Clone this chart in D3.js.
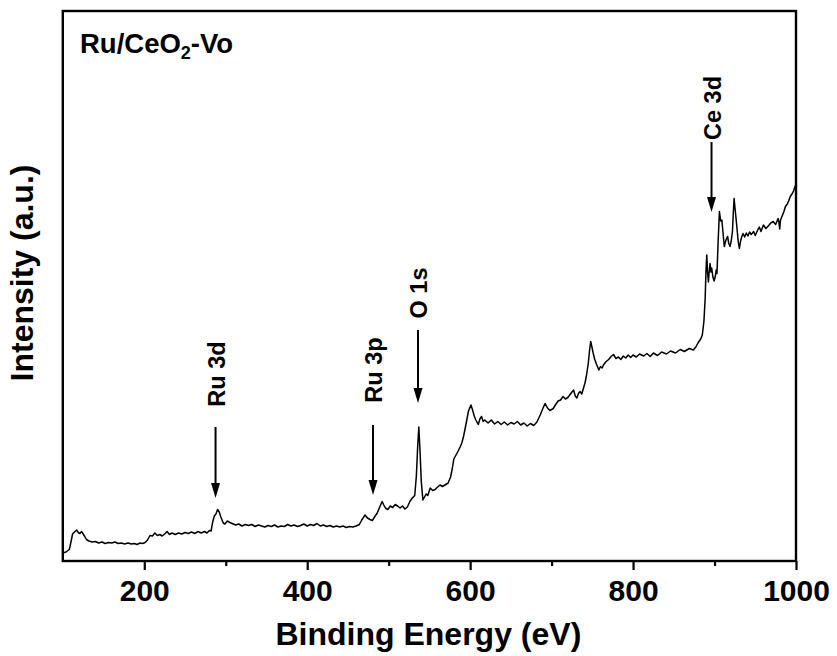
<!DOCTYPE html>
<html>
<head>
<meta charset="utf-8">
<script src="https://cdn.jsdelivr.net/npm/d3@7/dist/d3.min.js"></script>
<style>
  html, body { margin: 0; padding: 0; background: #fff; }
  svg { display: block; }
  text { font-family: "Liberation Sans", Arial, sans-serif; font-weight: bold; fill: #000; }
</style>
</head>
<body>
<svg id="chart" width="837" height="656"></svg>
<script>
// XPS survey spectrum of Ru/CeO2-Vo
const energy = [
  100,104,108,110,112,115,117,119,121,123,125,127,129,132,136,140,144,148,152,156,
  160,164,168,172,176,180,184,188,191,195,198,201,204,207,210,213,216,219,222,225,
  228,231,234,238,242,246,250,254,258,262,266,270,274,277,280,282,284,286,288,290,
  292,294,297,299,302,305,308,312,316,320,324,328,332,336,340,344,348,352,356,360,
  364,368,372,376,380,384,388,392,396,400,404,408,412,416,420,424,428,432,436,440,
  444,448,452,456,460,464,467,471,474,477,480,483,486,489,492,494,496,499,502,505,
  508,511,514,517,520,523,526,529,532,534,535.5,537,538.5,540,542,544,546,548,551,554,
  557,560,563,566,570,573,576,578,580,582,585,588,590,592,594,596,598,601,603,605,
  607,610,612,614,616,618,622,626,630,634,638,642,646,650,654,658,662,666,670,674,
  678,682,686,689,692,695,698,702,705,708,711,714,717,720,724,727,729,731,733,735,
  737,739,741,743,745,746.5,748,749.5,751,753,755,758,760,762,764,767,770,773,776,779,
  782,785,788,791,794,797,800,804,808,813,817,821,825,830,835,841,846,852,858,863,
  869,874,877,880,883,885,887,888.5,889.5,890.5,891.5,892.5,893.5,894.5,895.5,896.5,898,899.5,901,902,
  903,904.5,906,907.5,909,910.5,912,914,916,917.5,919,920.5,922,923,924,925.5,927,929,930.5,932,
  933.5,935,937,939,941,943,945,948,950,953,955,957,960,963,966,969,972,975,978,979,
  980,981,983,985,987,989,991,993,995,997,999,1000
];
const intensity = [
  1.6,1.8,2.3,3.8,5.4,5.9,6.2,5.7,5.5,5.9,5.4,4.9,4.3,4.0,3.8,3.9,3.6,3.8,3.5,3.7,
  3.6,3.8,3.5,3.6,3.4,3.6,3.4,3.5,3.3,3.6,3.5,3.7,4.2,5.1,5.0,5.6,5.1,5.3,5.0,5.4,
  5.9,5.3,5.6,5.3,5.6,5.4,5.7,5.5,5.8,5.5,5.9,5.6,5.9,5.6,6.1,6.0,7.8,9.0,9.4,10.3,
  9.8,8.8,7.6,7.4,8.0,7.7,7.5,7.2,7.4,7.0,7.3,7.1,7.3,6.9,7.2,7.0,6.8,7.1,6.9,7.2,
  6.8,7.0,6.9,7.3,7.0,7.2,6.9,7.1,7.4,7.0,7.3,7.1,7.5,7.0,7.2,6.9,7.1,6.8,7.0,6.8,
  7.0,6.7,6.9,6.8,7.0,7.3,8.2,9.2,8.6,8.3,8.1,8.9,9.6,10.8,11.9,11.2,10.6,10.3,11.0,10.7,
  11.3,11.0,10.6,11.0,10.4,10.8,11.9,12.6,13.1,17.0,22.5,26.8,22.0,16.0,12.2,12.8,13.4,13.1,14.6,14.1,
  14.3,14.8,15.2,14.9,15.3,15.6,16.8,18.4,20.4,21.0,21.9,22.9,23.7,25.0,26.6,28.3,30.0,31.2,30.2,29.0,
  28.2,27.3,28.4,28.9,27.9,28.2,27.6,28.2,27.4,27.9,27.3,27.8,27.2,27.7,27.4,27.9,27.2,27.6,27.0,27.5,
  27.1,27.8,29.2,30.4,31.5,30.6,30.1,30.5,31.3,32.0,32.2,32.9,32.4,32.7,33.6,34.2,33.0,32.6,33.5,33.9,
  33.4,34.5,35.6,37.3,39.5,42.0,43.9,42.8,41.6,40.3,39.4,38.2,38.9,38.6,39.3,39.9,40.3,40.9,41.3,40.5,
  40.8,40.3,41.0,40.6,41.2,40.7,41.2,40.8,41.4,41.0,41.5,40.9,41.6,41.1,41.8,41.4,42.0,41.6,42.3,41.9,
  42.5,42.2,42.8,43.7,44.4,45.2,48.0,52.5,58.0,61.2,57.5,55.8,58.0,59.5,57.8,58.6,56.8,56.0,57.0,58.2,
  57.5,64.2,69.9,68.0,68.2,65.5,62.9,64.2,64.9,63.5,62.9,64.0,65.9,69.5,72.5,70.0,67.5,64.0,62.5,64.0,
  64.9,65.5,64.8,65.6,65.0,65.8,65.3,65.9,65.1,66.2,66.8,65.9,67.2,66.5,67.0,67.6,67.9,67.3,68.5,67.8,
  66.4,68.2,69.0,69.8,70.9,71.3,72.0,72.9,73.4,74.0,75.0,74.6
];

// Peak assignments: arrow from `arrowTop` down to `arrowTip`, label centred at `labelAt`
const peakLabels = ["Ru 3d", "Ru 3p", "O 1s", "Ce 3d"];
const peakEnergy = [287.5, 480.8, 536, 896.3];
const arrowTop   = [26.8, 27.2, 46.2, 83.8];
const arrowTip   = [12.6, 13.2, 31.6, 69.8];
const labelAt    = [37.4, 38.2, 53.6, 90.6];

const majorTicks = [200, 400, 600, 800, 1000];
const minorTicks = [300, 500, 700, 900];

const xDomain = [100, 1000];
const yDomain = [0, 110];

const svg = d3.select("#chart");
const plotLeft = 62.8, plotRight = 796, plotTop = 11, plotBottom = 561;

const x = d3.scaleLinear().domain(xDomain).range([plotLeft, plotRight]);
const y = d3.scaleLinear().domain(yDomain).range([plotBottom, plotTop]);

// spectrum
const pts = energy.map((e, i) => [e, intensity[i]]);
svg.append("path")
  .datum(pts)
  .attr("fill", "none")
  .attr("stroke", "#000")
  .attr("stroke-width", 1.5)
  .attr("stroke-linejoin", "round")
  .attr("d", d3.line().x(d => x(d[0])).y(d => y(d[1])));

// bottom axis with major and minor ticks
const xAxis = svg.append("g").attr("transform", `translate(0,${plotBottom})`)
  .call(d3.axisBottom(x).tickValues(majorTicks).tickSize(9).tickPadding(10).tickFormat(d3.format("d")));
xAxis.select(".domain").remove();
xAxis.selectAll(".tick line").attr("stroke", "#000").attr("stroke-width", 2.2);
xAxis.selectAll(".tick text").style("font-size", "30px").style("font-family", "Liberation Sans, Arial, sans-serif").style("font-weight", "bold");

const xMinor = svg.append("g").attr("transform", `translate(0,${plotBottom})`)
  .call(d3.axisBottom(x).tickValues(minorTicks).tickSize(5).tickFormat(""));
xMinor.select(".domain").remove();
xMinor.selectAll(".tick line").attr("stroke", "#000").attr("stroke-width", 2.2);

// frame
svg.append("rect")
  .attr("x", plotLeft).attr("y", plotTop)
  .attr("width", plotRight - plotLeft).attr("height", plotBottom - plotTop)
  .attr("fill", "none").attr("stroke", "#000").attr("stroke-width", 2.4);

// peak arrows and labels
peakLabels.forEach((lab, i) => {
  const px = x(peakEnergy[i]);
  const yTip = y(arrowTip[i]);
  svg.append("line")
    .attr("x1", px).attr("x2", px)
    .attr("y1", y(arrowTop[i])).attr("y2", yTip - 12)
    .attr("stroke", "#000").attr("stroke-width", 2);
  svg.append("path")
    .attr("d", `M${px - 4.5},${yTip - 15} L${px + 4.5},${yTip - 15} L${px},${yTip} Z`)
    .attr("fill", "#000");
  svg.append("text")
    .attr("transform", `translate(${px + 9},${y(labelAt[i])}) rotate(-90)`)
    .attr("text-anchor", "middle")
    .style("font-size", "23.5px")
    .text(lab);
});

// sample name
const title = svg.append("text").attr("x", 80).attr("y", 53).style("font-size", "27.5px");
title.append("tspan").text("Ru/CeO");
title.append("tspan").attr("dy", 6).style("font-size", "18px").text("2");
title.append("tspan").attr("dy", -6).text("-Vo");

// axis titles
svg.append("text")
  .attr("x", (plotLeft + plotRight) / 2 - 1).attr("y", 645)
  .attr("text-anchor", "middle")
  .style("font-size", "32px")
  .text("Binding Energy (eV)");

svg.append("text")
  .attr("transform", `translate(33,${(plotTop + plotBottom) / 2 - 13}) rotate(-90)`)
  .attr("text-anchor", "middle")
  .style("font-size", "32px")
  .text("Intensity (a.u.)");
</script>
</body>
</html>
